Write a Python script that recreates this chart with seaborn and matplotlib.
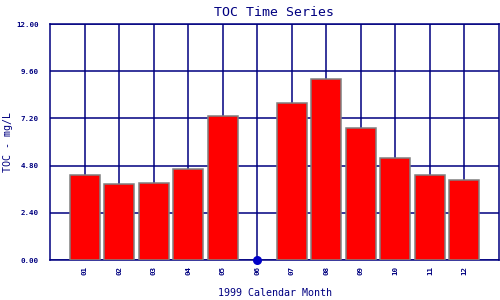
import numpy as np
import pandas as pd
import matplotlib
matplotlib.use("Agg")
import matplotlib.pyplot as plt
import seaborn as sns

months = ["01", "02", "03", "04", "05", "06", "07", "08", "09", "10", "11", "12"]
toc = [4.32, 3.86, 3.90, 4.61, 7.30, np.nan, 7.97, 9.19, 6.70, 5.17, 4.31, 4.05]
missing_months = ["06"]
missing_values = [0.0]
yticks = [0.0, 2.4, 4.8, 7.2, 9.6, 12.0]

NAVY = "#000080"

sns.set_style("white")
plt.rcParams["font.family"] = ["DejaVu Sans Mono", "DejaVu Sans"]

fig = plt.figure(figsize=(5, 3), dpi=100)
ax = fig.add_axes([0.1, 0.1333, 0.898, 0.7867])

df = pd.DataFrame({"month": months, "toc": toc})
sns.barplot(data=df, x="month", y="toc", order=months, color="#ff0000",
            saturation=1, width=0.87, edgecolor="#808080", linewidth=1.1,
            ax=ax, zorder=3)
sns.stripplot(x=missing_months, y=missing_values, order=months, jitter=False,
              color="#0000c8", size=6.5, ax=ax, zorder=5, clip_on=False,
              linewidth=0)

ax.set_xlim(-1, 12)
ax.set_ylim(0, 12)
ax.set_yticks(yticks)
ax.set_yticklabels([f"{v:.2f}" for v in yticks])
ax.grid(True, color=NAVY, linewidth=1.1, zorder=0)
ax.set_axisbelow(True)
for s in ax.spines.values():
    s.set_visible(True)
    s.set_color(NAVY)
    s.set_linewidth(1.1)

ax.tick_params(axis="both", length=0, colors=NAVY, labelsize=5.4)
ax.tick_params(axis="y", pad=8)
ax.tick_params(axis="x", pad=4, labelrotation=90)
for lab in ax.get_xticklabels() + ax.get_yticklabels():
    lab.set_fontweight("bold")

ax.set_title("TOC Time Series", color=NAVY, fontsize=9.5, pad=6)
ax.set_xlabel("1999 Calendar Month", color=NAVY, fontsize=7.2)
ax.xaxis.set_label_coords(0.5, -0.118)
ax.set_ylabel("TOC - mg/L", color=NAVY, fontsize=7.2)
ax.yaxis.set_label_coords(-0.083, 0.5)

fig.savefig("out.png", dpi=100)
